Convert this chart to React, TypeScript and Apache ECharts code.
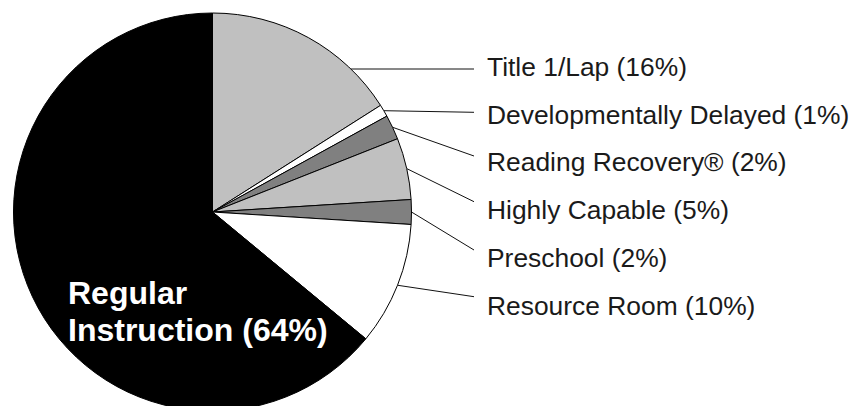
import React, { useEffect, useRef } from "react";
import * as echarts from "echarts";

// ---- data ----
const categories = [
  "Title 1/Lap",
  "Developmentally Delayed",
  "Reading Recovery®",
  "Highly Capable",
  "Preschool",
  "Resource Room",
  "Regular Instruction",
];
const values = [16, 1, 2, 5, 2, 10, 64];
const colors = ["#c0c0c0", "#ffffff", "#808080", "#c0c0c0", "#808080", "#ffffff", "#000000"];

// ---- layout constants ----
const CX = 212.5;
const CY = 212;
const R = 199;
const TEXT_X = 487;
const LINE_END_X = 474;
const TEXT_Y = [66.7, 114.5, 162.3, 210.1, 257.9, 305.7];
const LINE_Y = [69, 112.3, 156, 201.7, 250, 296.7];

export default function App() {
  const ref = useRef<HTMLDivElement>(null);
  useEffect(() => {
    document.body.style.margin = "0";
    if (!ref.current) return;
    const chart = echarts.init(ref.current, undefined, { renderer: "svg" });
    const total = values.reduce((a, b) => a + b, 0);
    const cumStart: number[] = [];
    let acc = 0;
    values.forEach((v) => {
      cumStart.push(acc);
      acc += v;
    });
    const lastIdx = values.length - 1;

    chart.setOption({
      animation: false,
      backgroundColor: "#ffffff",
      series: [
        {
          type: "pie",
          center: [CX, CY],
          radius: R,
          startAngle: 90,
          clockwise: true,
          avoidLabelOverlap: false,
          silent: true,
          emphasis: { disabled: true },
          itemStyle: { borderColor: "#000", borderWidth: 1 },
          label: {
            show: true,
            position: "outside",
            fontFamily: "'Liberation Sans', Arial, sans-serif",
            fontSize: 26.4,
            color: "#1a1a1a",
            formatter: (p: any) =>
              p.dataIndex === lastIdx
                ? "Regular\nInstruction (" + p.value + "%)"
                : p.name + " (" + p.value + "%)",
          },
          labelLine: { show: true, lineStyle: { color: "#111", width: 1 } },
          labelLayout: (p: any) => {
            const i = p.dataIndex;
            if (i === lastIdx) {
              return { x: 68, y: 311, align: "left", verticalAlign: "middle" };
            }
            const ly = LINE_Y[i];
            let start: number[];
            if (i === 0) {
              const dy = ly - CY;
              start = [CX + Math.sqrt(R * R - dy * dy), ly];
            } else if (p.labelLinePoints && p.labelLinePoints[0]) {
              start = p.labelLinePoints[0];
            } else {
              const mid = ((cumStart[i] + values[i] / 2) / total) * Math.PI * 2;
              start = [CX + R * Math.sin(mid), CY - R * Math.cos(mid)];
            }
            return {
              x: TEXT_X,
              y: TEXT_Y[i],
              align: "left",
              verticalAlign: "middle",
              labelLinePoints: [start, [LINE_END_X, ly]],
            };
          },
          data: categories.map((name, i) => ({
            name,
            value: values[i],
            itemStyle: { color: colors[i] },
            ...(i === lastIdx
              ? {
                  label: {
                    position: "inside",
                    color: "#ffffff",
                    fontSize: 32,
                    fontWeight: "bold",
                    lineHeight: 37,
                    align: "left",
                  },
                  labelLine: { show: false },
                }
              : {}),
          })),
        },
      ],
    });
    return () => chart.dispose();
  }, []);
  return <div ref={ref} style={{ width: 857, height: 406 }} />;
}
